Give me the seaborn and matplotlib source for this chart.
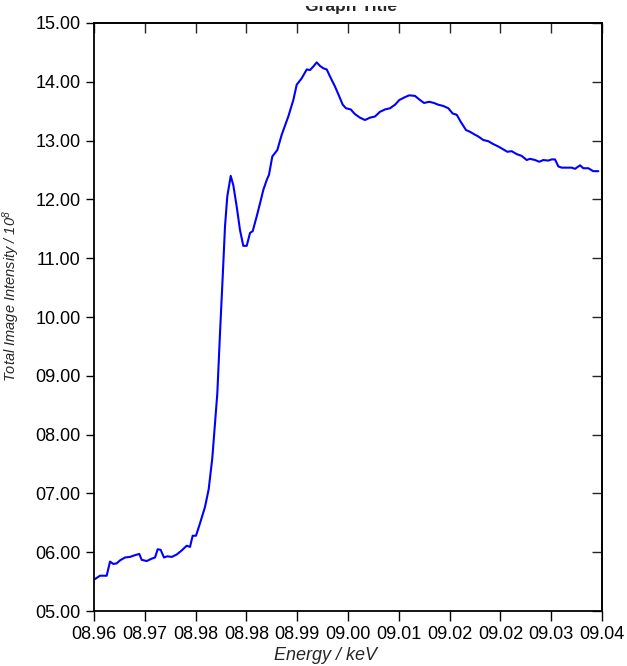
import numpy as np
import pandas as pd
import matplotlib
matplotlib.use("Agg")
import matplotlib.pyplot as plt
from matplotlib.ticker import FormatStrFormatter
from matplotlib.transforms import Bbox
import seaborn as sns

# Beam energy (keV) and total image intensity (x 1e8)
energy_kev = [
    8.96011, 8.96094, 8.96200, 8.96252, 8.96304, 8.96357, 8.96409, 8.96488,
    8.96567, 8.96646, 8.96713, 8.96751, 8.96830, 8.96909, 8.96961, 8.97003,
    8.97050, 8.97102, 8.97154, 8.97224, 8.97302, 8.97381, 8.97460, 8.97512,
    8.97554, 8.97606, 8.97669, 8.97748, 8.97806, 8.97863, 8.97942, 8.97984,
    8.98027, 8.98063, 8.98099, 8.98153, 8.98194, 8.98247, 8.98299, 8.98351,
    8.98405, 8.98457, 8.98499, 8.98562, 8.98614, 8.98666, 8.98720, 8.98756,
    8.98808, 8.98887, 8.98956, 8.99060, 8.99139, 8.99192, 8.99271, 8.99350,
    8.99402, 8.99454, 8.99507, 8.99559, 8.99611, 8.99665, 8.99717, 8.99795,
    8.99863, 8.99917, 8.99969, 9.00043, 9.00110, 9.00189, 9.00268, 9.00346,
    9.00425, 9.00504, 9.00583, 9.00661, 9.00740, 9.00808, 9.00898, 9.00965,
    9.01055, 9.01134, 9.01197, 9.01280, 9.01354, 9.01422, 9.01498, 9.01580,
    9.01649, 9.01712, 9.01775, 9.01858, 9.01921, 9.02000, 9.02052, 9.02131,
    9.02209, 9.02288, 9.02367, 9.02446, 9.02509, 9.02578, 9.02657, 9.02735,
    9.02814, 9.02866, 9.02945, 9.03013, 9.03076, 9.03154, 9.03208, 9.03260,
    9.03313, 9.03365, 9.03444, 9.03523, 9.03575, 9.03654, 9.03706, 9.03784,
    9.03863, 9.03942,
]
intensity = [
    5.54, 5.60, 5.60, 5.84, 5.80, 5.81, 5.86, 5.91,
    5.92, 5.95, 5.97, 5.87, 5.85, 5.89, 5.91, 6.05,
    6.04, 5.91, 5.93, 5.92, 5.96, 6.03, 6.11, 6.09,
    6.28, 6.28, 6.49, 6.77, 7.07, 7.60, 8.70, 9.72,
    10.69, 11.54, 12.05, 12.40, 12.24, 11.88, 11.48, 11.21,
    11.21, 11.43, 11.46, 11.71, 11.93, 12.16, 12.33, 12.42,
    12.73, 12.84, 13.10, 13.41, 13.69, 13.95, 14.06, 14.21,
    14.20, 14.26, 14.33, 14.27, 14.23, 14.21, 14.09, 13.92,
    13.75, 13.61, 13.55, 13.53, 13.45, 13.39, 13.35, 13.39,
    13.41, 13.49, 13.53, 13.55, 13.61, 13.69, 13.74, 13.77,
    13.76, 13.69, 13.64, 13.66, 13.64, 13.61, 13.59, 13.55,
    13.46, 13.44, 13.32, 13.18, 13.15, 13.10, 13.07, 13.01,
    12.99, 12.94, 12.90, 12.85, 12.81, 12.82, 12.77, 12.74,
    12.67, 12.69, 12.67, 12.64, 12.67, 12.66, 12.68, 12.68,
    12.56, 12.54, 12.54, 12.54, 12.52, 12.58, 12.53, 12.53,
    12.48, 12.48,
]

x_ticks = np.linspace(8.96, 9.04, 11)
y_ticks = np.arange(5, 16, 1)

sns.set_theme(style="ticks")
plt.rcParams["font.family"] = ["Liberation Sans", "DejaVu Sans"]

df = pd.DataFrame({"energy": energy_kev, "intensity": intensity})

W, H = 627, 666
fig = plt.figure(figsize=(W / 100, H / 100), dpi=100)
ax = fig.add_axes([94 / W, 55 / H, 508 / W, 588 / H])

sns.lineplot(data=df, x="energy", y="intensity", ax=ax, sort=False,
             estimator=None, color="#0000ff", linewidth=1.5)

ax.set_xlim(8.96, 9.04)
ax.set_ylim(5, 15)
ax.set_xticks(x_ticks)
ax.set_yticks(y_ticks)
ax.xaxis.set_major_formatter(FormatStrFormatter("%05.2f"))
ax.yaxis.set_major_formatter(FormatStrFormatter("%05.2f"))
ax.tick_params(axis="both", direction="out", width=1, color="black",
               labelsize=13, labelcolor="black")
ax.tick_params(axis="x", length=7, pad=4)
ax.tick_params(axis="y", length=5.5, pad=4)

for side in ["left", "right", "top", "bottom"]:
    ax.spines[side].set_visible(True)
    ax.spines[side].set_linewidth(1.3)
    ax.spines[side].set_color("black")

# Inward ticks mirrored on the top and right frame edges
top = ax.secondary_xaxis("top")
top.set_xticks(x_ticks)
top.tick_params(direction="in", length=7, width=1, labeltop=False)
right = ax.secondary_yaxis("right")
right.set_yticks(y_ticks)
right.tick_params(direction="in", length=7, width=1, labelright=False)

ax.set_xlabel("Energy / keV", fontsize=13, style="italic")
ax.xaxis.set_label_coords((326 - 94) / 508, -0.062)
ax.set_ylabel("Total Image Intensity / $\\mathregular{10^8}$", fontsize=10.5,
              style="italic")
ax.yaxis.set_label_coords(-0.142, (611 - 296) / 588)

# Title sits at the very top edge; only its lower strip shows
title = fig.text(351 / W, 1 - 11 / H, "Graph Title", ha="center",
                 va="baseline", fontsize=12.5, fontweight="bold")
title.set_clip_box(Bbox([[0, 0], [W, H - 6]]))
title.set_clip_on(True)

fig.savefig("out.png", dpi=100)
